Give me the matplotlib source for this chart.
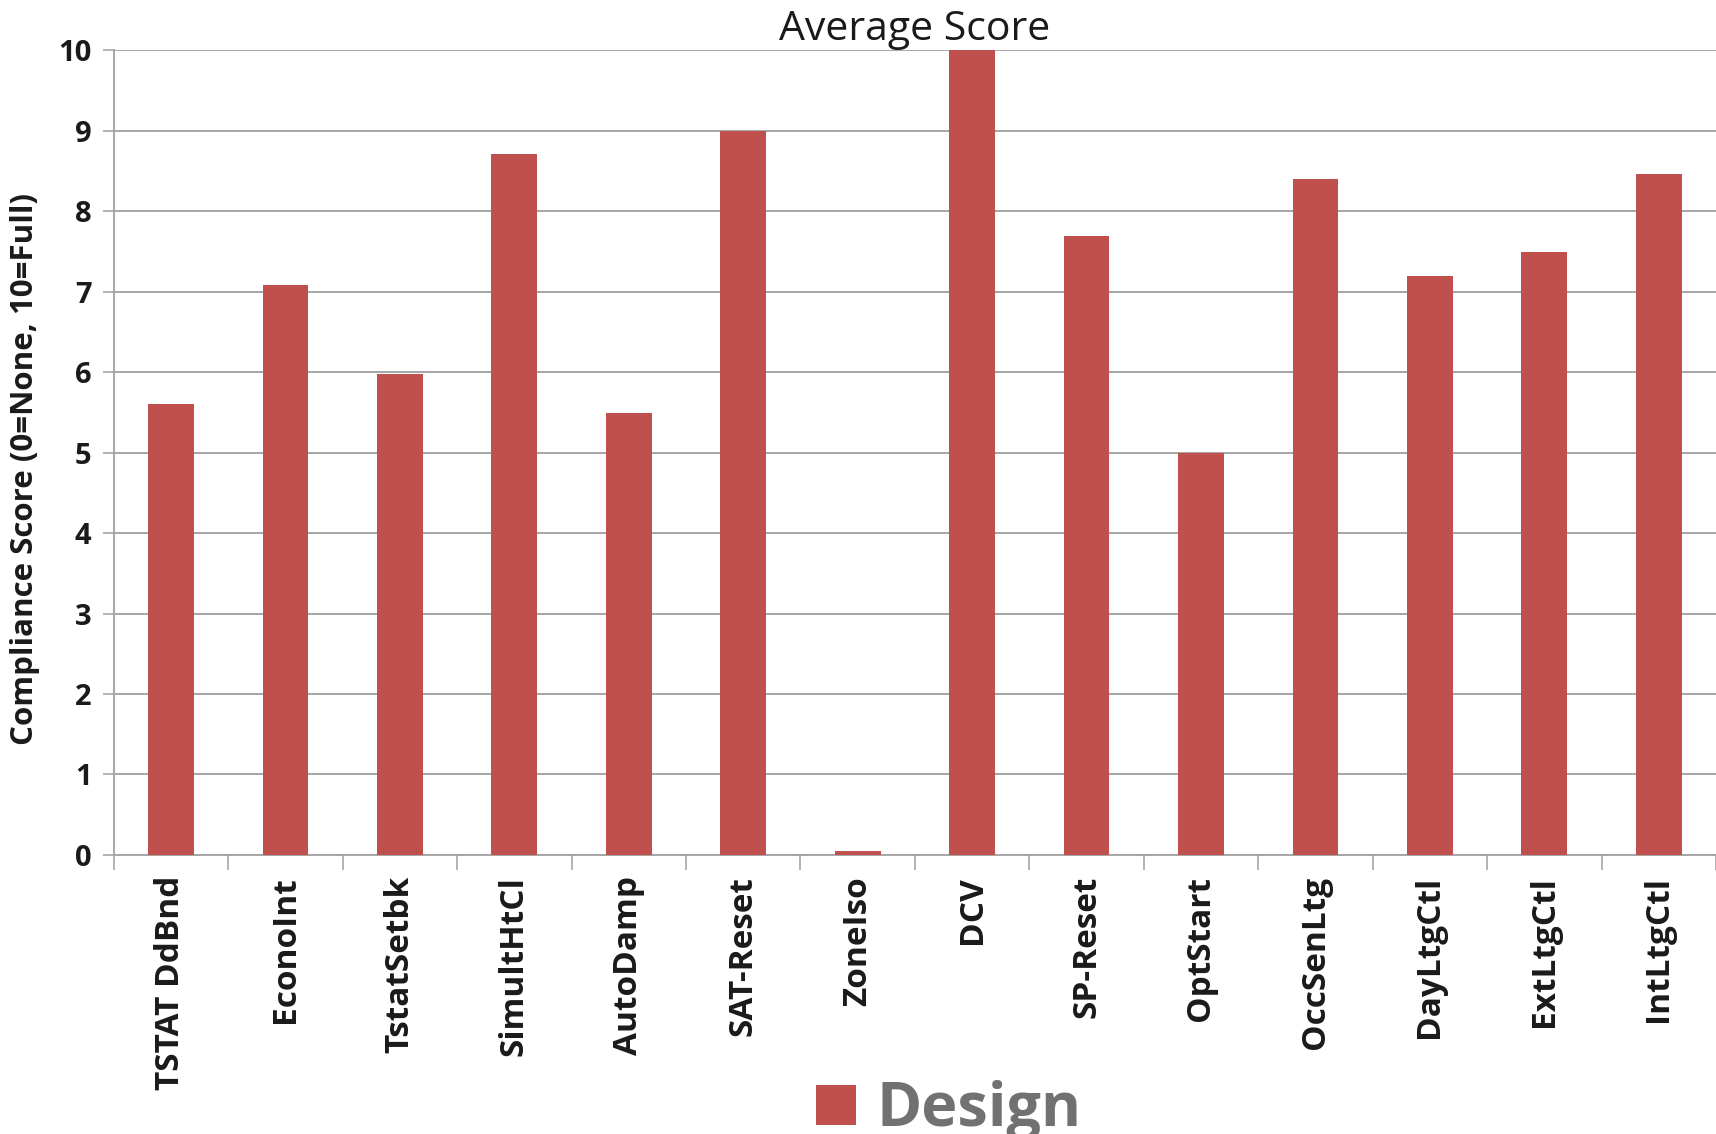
import matplotlib.pyplot as plt
from matplotlib.patches import Patch

measures = ['TSTAT DdBnd', 'EconoInt', 'TstatSetbk', 'SimultHtCl', 'AutoDamp',
            'SAT-Reset', 'ZoneIso', 'DCV', 'SP-Reset', 'OptStart',
            'OccSenLtg', 'DayLtgCtl', 'ExtLtgCtl', 'IntLtgCtl']
design_scores = [5.6, 7.08, 5.98, 8.71, 5.49, 9.0, 0.05, 10.0, 7.69, 5.0,
                 8.4, 7.2, 7.49, 8.46]
y_ticks = [0, 1, 2, 3, 4, 5, 6, 7, 8, 9, 10]

bar_color = '#C0504D'
grid_color = '#A6A6A6'

plt.rcParams['font.family'] = ['Open Sans', 'DejaVu Sans']

fig = plt.figure(figsize=(17.16, 11.34), dpi=100)
ax = fig.add_axes([0.0663, 0.2461, 0.9337, 0.7095])

x = list(range(len(measures)))
ax.bar(x, design_scores, width=0.4, color=bar_color, zorder=3)

ax.set_xlim(-0.5, len(measures) - 0.5)
ax.set_ylim(0, 10)
ax.set_yticks(y_ticks)
ax.set_yticklabels([str(v) for v in y_ticks], fontsize=21, fontweight='bold', color='#1a1a1a')
ax.yaxis.grid(True, color=grid_color, linewidth=1.4, zorder=0)
ax.tick_params(axis='y', length=8, width=1.2, color=grid_color, pad=8)

# category labels at centres, tick marks between categories
ax.set_xticks(x)
ax.set_xticklabels(measures, rotation=90, fontsize=24, fontweight='bold', color='#1a1a1a')
ax.set_xticks([i - 0.5 for i in range(len(measures) + 1)], minor=True)
ax.tick_params(axis='x', which='major', length=0, pad=15)
ax.tick_params(axis='x', which='minor', length=11, width=1.2, color=grid_color)

for side in ['top', 'right']:
    ax.spines[side].set_visible(False)
for side in ['left', 'bottom']:
    ax.spines[side].set_color(grid_color)
    ax.spines[side].set_linewidth(1.4)

ax.set_ylabel('Compliance Score (0=None, 10=Full)', fontsize=22.5, fontweight='bold',
              color='#1a1a1a')
ax.yaxis.set_label_coords(-0.046, 0.48)
ax.set_title('Average Score', fontsize=29.5, color='#1a1a1a', pad=6)

handles = [Patch(facecolor=bar_color, label='Design')]
fig.legend(handles=handles, loc='lower center', bbox_to_anchor=(0.553, -0.055),
           frameon=False, handlelength=0.65, handleheight=0.65, handletextpad=0.35,
           prop={'size': 44, 'weight': 'bold'}, labelcolor='#717171')

fig.savefig('out.png', dpi=100)
